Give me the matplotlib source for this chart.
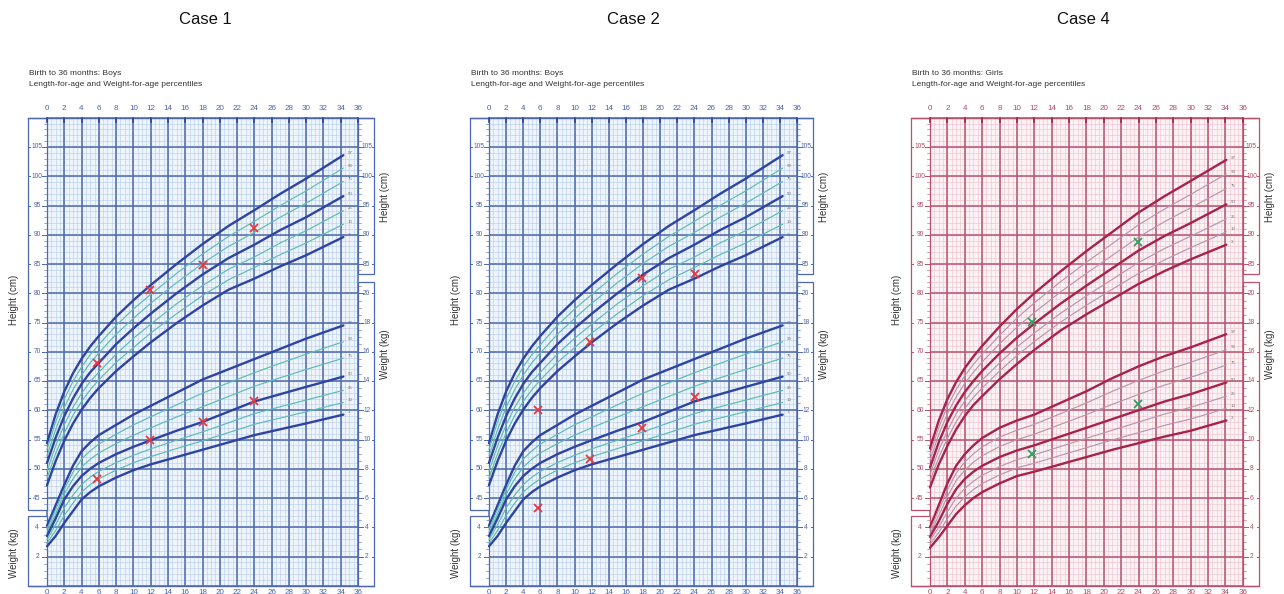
import numpy as np
import matplotlib
matplotlib.use("Agg")
import matplotlib.pyplot as plt
from matplotlib.patches import Rectangle

plt.rcParams['font.family'] = ['Liberation Sans', 'DejaVu Sans']

boy_age = [0, 1, 2, 3, 4, 5, 6, 8, 10, 12, 15, 18, 21, 24, 27, 30, 34.3]
girl_age = [0, 1, 2, 3, 4, 5, 6, 8, 10, 12, 15, 18, 21, 24, 27, 30, 34.1]
pct_names = ['97', '90', '75', '50', '25', '10', '3']

# boys length-for-age (cm)
boy_len_97 = [54.4, 59.3, 63.2, 66.3, 68.8, 70.9, 72.7, 76.0, 78.8, 81.4, 85.0, 88.4, 91.5, 94.2, 97.0, 99.6, 103.6]
boy_len_90 = [53.3, 58.0, 61.9, 64.9, 67.4, 69.5, 71.2, 74.5, 77.3, 79.8, 83.4, 86.7, 89.7, 92.3, 95.0, 97.5, 101.4]
boy_len_75 = [52.2, 56.7, 60.5, 63.5, 66.0, 68.1, 69.8, 73.0, 75.7, 78.3, 81.8, 85.1, 88.0, 90.4, 93.0, 95.4, 99.1]
boy_len_50 = [51.0, 55.3, 59.0, 62.0, 64.5, 66.5, 68.1, 71.3, 74.0, 76.5, 80.0, 83.2, 86.0, 88.3, 90.8, 93.0, 96.6]
boy_len_25 = [49.6, 53.9, 57.5, 60.5, 62.9, 64.9, 66.5, 69.6, 72.3, 74.7, 78.2, 81.3, 84.1, 86.2, 88.6, 90.7, 94.1]
boy_len_10 = [48.4, 52.6, 56.1, 59.1, 61.5, 63.5, 65.2, 68.2, 70.7, 73.2, 76.5, 79.6, 82.3, 84.4, 86.6, 88.6, 91.8]
boy_len_3 = [47.2, 51.3, 54.8, 57.7, 60.1, 62.1, 63.8, 66.7, 69.2, 71.6, 74.9, 77.9, 80.6, 82.5, 84.6, 86.5, 89.6]

# boys weight-for-age (kg)
boy_wt_97 = [4.1, 5.5, 6.9, 8.2, 9.2, 9.8, 10.3, 11.0, 11.7, 12.3, 13.2, 14.1, 14.8, 15.5, 16.2, 16.9, 17.8]
boy_wt_90 = [3.88, 5.21, 6.58, 7.75, 8.66, 9.22, 9.69, 10.36, 11.0, 11.55, 12.37, 13.17, 13.87, 14.57, 15.21, 15.84, 16.68]
boy_wt_75 = [3.65, 4.92, 6.26, 7.30, 8.11, 8.65, 9.08, 9.72, 10.29, 10.80, 11.54, 12.24, 12.94, 13.64, 14.22, 14.79, 15.56]
boy_wt_50 = [3.4, 4.6, 5.9, 6.8, 7.5, 8.0, 8.4, 9.0, 9.5, 9.95, 10.6, 11.2, 11.9, 12.6, 13.1, 13.6, 14.3]
boy_wt_25 = [3.15, 4.17, 5.32, 6.19, 6.92, 7.42, 7.82, 8.42, 8.92, 9.36, 9.95, 10.52, 11.14, 11.77, 12.24, 12.70, 13.36]
boy_wt_10 = [2.92, 3.78, 4.81, 5.64, 6.41, 6.91, 7.31, 7.91, 8.41, 8.83, 9.38, 9.91, 10.47, 11.04, 11.47, 11.90, 12.53]
boy_wt_3 = [2.7, 3.4, 4.3, 5.1, 5.9, 6.4, 6.8, 7.4, 7.9, 8.3, 8.8, 9.3, 9.8, 10.3, 10.7, 11.1, 11.7]

# girls length-for-age (cm)
girl_len_97 = [53.5, 58.2, 61.9, 64.8, 67.2, 69.2, 71.0, 74.3, 77.3, 80.0, 83.7, 87.2, 90.5, 93.8, 96.6, 99.2, 102.8]
girl_len_90 = [52.45, 57.0, 60.65, 63.5, 65.9, 67.85, 69.6, 72.8, 75.75, 78.35, 81.95, 85.3, 88.5, 91.7, 94.4, 96.9, 100.4]
girl_len_75 = [51.4, 55.85, 59.4, 62.25, 64.6, 66.5, 68.25, 71.35, 74.2, 76.7, 80.2, 83.4, 86.5, 89.6, 92.25, 94.6, 97.9]
girl_len_50 = [50.2, 54.5, 58.0, 60.8, 63.1, 65.0, 66.7, 69.7, 72.4, 74.8, 78.2, 81.3, 84.3, 87.3, 89.8, 92.0, 95.2]
girl_len_25 = [49.0, 53.15, 56.5, 59.35, 61.6, 63.5, 65.15, 68.1, 70.8, 73.2, 76.55, 79.55, 82.4, 85.25, 87.65, 89.75, 92.7]
girl_len_10 = [47.9, 51.9, 55.2, 58.0, 60.3, 62.2, 63.8, 66.7, 69.35, 71.75, 75.05, 77.95, 80.7, 83.4, 85.7, 87.8, 90.5]
girl_len_3 = [46.8, 50.7, 53.9, 56.7, 59.0, 60.9, 62.4, 65.3, 67.9, 70.3, 73.6, 76.4, 79.0, 81.6, 83.8, 85.8, 88.3]

# girls weight-for-age (kg)
girl_wt_97 = [4.0, 5.5, 7.0, 8.2, 9.0, 9.6, 10.1, 10.8, 11.3, 11.7, 12.5, 13.3, 14.2, 15.0, 15.7, 16.3, 17.2]
girl_wt_90 = [3.79, 5.15, 6.55, 7.69, 8.46, 9.02, 9.49, 10.16, 10.64, 11.03, 11.76, 12.5, 13.3, 14.04, 14.71, 15.28, 16.14]
girl_wt_75 = [3.58, 4.80, 6.10, 7.18, 7.91, 8.45, 8.88, 9.52, 9.99, 10.36, 11.03, 11.7, 12.41, 13.08, 13.72, 14.25, 15.09]
girl_wt_50 = [3.35, 4.4, 5.6, 6.6, 7.3, 7.8, 8.2, 8.8, 9.25, 9.6, 10.2, 10.8, 11.4, 12.0, 12.6, 13.1, 13.9]
girl_wt_25 = [3.08, 4.00, 5.06, 5.99, 6.65, 7.15, 7.55, 8.15, 8.62, 8.95, 9.52, 10.08, 10.64, 11.19, 11.74, 12.2, 12.96]
girl_wt_10 = [2.84, 3.65, 4.58, 5.44, 6.08, 6.58, 6.98, 7.58, 8.06, 8.38, 8.91, 9.44, 9.97, 10.47, 10.97, 11.4, 12.13]
girl_wt_3 = [2.6, 3.3, 4.1, 4.9, 5.5, 6.0, 6.4, 7.0, 7.5, 7.8, 8.3, 8.8, 9.3, 9.75, 10.2, 10.6, 11.3]

# measurements marked on each chart
case1_age = [5.8, 11.9, 18.0, 24.0]
case1_len = [68.1, 80.6, 84.8, 91.2]
case1_wt = [7.3, 9.95, 11.2, 12.6]
case2_age = [5.7, 11.8, 17.9, 24.1]
case2_len = [60.0, 71.7, 82.6, 83.3]
case2_wt = [5.3, 8.7, 10.8, 12.9]
case4_age = [11.7, 23.9]
case4_len = [75.1, 88.8]
case4_wt = [9.0, 12.4]

boy_len = dict(zip(pct_names, [boy_len_97, boy_len_90, boy_len_75, boy_len_50, boy_len_25, boy_len_10, boy_len_3]))
boy_wt = dict(zip(pct_names, [boy_wt_97, boy_wt_90, boy_wt_75, boy_wt_50, boy_wt_25, boy_wt_10, boy_wt_3]))
girl_len = dict(zip(pct_names, [girl_len_97, girl_len_90, girl_len_75, girl_len_50, girl_len_25, girl_len_10, girl_len_3]))
girl_wt = dict(zip(pct_names, [girl_wt_97, girl_wt_90, girl_wt_75, girl_wt_50, girl_wt_25, girl_wt_10, girl_wt_3]))

BLUE = dict(bg='#edf4fb', minor='#b6cbe7', major='#4d68ae', dark='#2e44a0', light='#5dbcb0',
            text='#4a63a8', mark='#e8383d')
PINK = dict(bg='#fcf2f5', minor='#e9c0cd', major='#b9516d', dark='#a6234b', light='#b996ab',
            text='#b04a66', mark='#2fa060')

W, H = 1284, 594
# height-scale value at the bottom / top of each panel axes
Y_LO = 105 - (H - 147) / 5.85
Y_HI = 105 + (147 - 60) / 5.85
XMIN, XMAX = -4.6, 40.2

fig = plt.figure(figsize=(W / 100, H / 100), dpi=100)


def draw_panel(x0, s, title, tx, sex, ages, lens, wts, c_age, c_len, c_wt, th):
    ax = fig.add_axes([(x0 + XMIN * s) / W, 0, (XMAX - XMIN) * s / W, 1 - 60 / H])
    ax.set_xlim(XMIN, XMAX)
    ax.set_ylim(Y_LO, Y_HI)
    ax.set_axis_off()
    axw = ax.twinx()
    axw.set_ylim((Y_LO - 30) / 2.5, (Y_HI - 30) / 2.5)
    axw.set_axis_off()

    # grid
    ax.add_patch(Rectangle((0, 30), 36, 80, facecolor=th['bg'], edgecolor='none', zorder=0))
    ax.vlines(np.arange(0, 36.01, 0.5), 30, 110, color=th['minor'], lw=0.4, zorder=1)
    ax.hlines(np.arange(30, 110.1, 1), 0, 36, color=th['minor'], lw=0.4, zorder=1)
    ax.vlines(np.arange(0, 36.01, 2), 30, 110, color=th['major'], lw=1.1, zorder=2)
    ax.hlines(np.arange(30, 110.1, 5), 0, 36, color=th['major'], lw=1.1, zorder=2)

    # label boxes either side
    box = dict(facecolor='white', edgecolor=th['major'], lw=0.9, zorder=2)
    ax.add_patch(Rectangle((-2.2, 43.0), 2.2, 67.0, **box))
    ax.add_patch(Rectangle((-2.2, 30), 2.2, 11.9, **box))
    ax.add_patch(Rectangle((36, 83.3), 1.9, 26.7, **box))
    ax.add_patch(Rectangle((36, 30), 1.9, 51.9, **box))

    for h in range(44, 110):
        big = h % 5 == 0
        ax.plot([-0.55 if big else -0.35, 0], [h, h], color=th['major'], lw=0.7 if big else 0.4, zorder=3)
        if big:
            ax.plot([-2.2, -1.95], [h, h], color=th['major'], lw=0.7, zorder=3)
            ax.text(-1.15, h, str(h), fontsize=4.8, color=th['text'], ha='center', va='center', zorder=4)
    for h in range(84, 110):
        big = h % 5 == 0
        ax.plot([36, 36.55 if big else 36.35], [h, h], color=th['major'], lw=0.7 if big else 0.4, zorder=3)
        if big:
            ax.plot([37.65, 37.9], [h, h], color=th['major'], lw=0.7, zorder=3)
            ax.text(37.0, h, str(h), fontsize=4.8, color=th['text'], ha='center', va='center', zorder=4)
    for w in np.arange(0.5, 4.6, 0.5):
        big = w % 2 == 0
        axw.plot([-0.55 if big else -0.35, 0], [w, w], color=th['major'], lw=0.7 if big else 0.4, zorder=3)
        if big:
            axw.text(-1.15, w, str(int(w)), fontsize=4.8, color=th['text'], ha='center', va='center', zorder=4)
    for w in np.arange(0.5, 20.6, 0.5):
        big = w % 2 == 0
        axw.plot([36, 36.55 if big else 36.35], [w, w], color=th['major'], lw=0.7 if big else 0.4, zorder=3)
        if big:
            axw.plot([37.65, 37.9], [w, w], color=th['major'], lw=0.7, zorder=3)
            axw.text(37.0, w, str(int(w)), fontsize=4.8, color=th['text'], ha='center', va='center', zorder=4)

    # outer frame
    ax.plot([-2.2, 37.9], [110, 110], color=th['major'], lw=1.0, zorder=3)
    ax.plot([-2.2, 37.9], [30, 30], color=th['major'], lw=1.0, zorder=3)

    # month ticks top and bottom
    for a in range(0, 37, 2):
        ax.text(a, 111.5, str(a), fontsize=5.8, color=th['text'], ha='center', va='center')
        ax.text(a, 28.85, str(a), fontsize=5.8, color=th['text'], ha='center', va='center')
        ax.plot([a, a], [110, 109.2], color=th['dark'], lw=1.2, zorder=3)

    # percentile curves
    for p in pct_names:
        dark = p in ('97', '50', '3')
        kw = dict(color=th['dark'] if dark else th['light'], lw=1.7 if dark else 0.85, zorder=5,
                  solid_capstyle='round')
        ax.plot(ages, lens[p], **kw)
        axw.plot(ages, wts[p], **kw)
        ax.text(ages[-1] + 0.5, lens[p][-1] + 0.4, p, fontsize=3.2, color='#777777', ha='left', va='center')
        axw.text(ages[-1] + 0.5, wts[p][-1] + 0.16, p, fontsize=3.2, color='#777777', ha='left', va='center')

    # measurements
    mk = dict(marker='x', ls='none', color=th['mark'], ms=6, mew=1.3, zorder=6)
    ax.plot(c_age, c_len, **mk)
    axw.plot(c_age, c_wt, **mk)

    # axis titles
    ax.text(-3.8, 78.8, 'Height (cm)', rotation=90, fontsize=7, color='#333333', ha='center', va='center')
    ax.text(-3.8, 35.5, 'Weight (kg)', rotation=90, fontsize=7, color='#333333', ha='center', va='center')
    ax.text(39.1, 96.5, 'Height (cm)', rotation=90, fontsize=7, color='#333333', ha='center', va='center')
    ax.text(39.1, 69.5, 'Weight (kg)', rotation=90, fontsize=7, color='#333333', ha='center', va='center')

    ax.text(-2.1, 117.5, 'Birth to 36 months: ' + sex, fontsize=6, color='#333333', ha='left', va='center')
    ax.text(-2.1, 115.6, 'Length-for-age and Weight-for-age percentiles', fontsize=6, color='#333333',
            ha='left', va='center')
    fig.text(tx / W, 1 - 20 / H, title, fontsize=12, ha='center', va='center', color='#111111')


draw_panel(47, 8.64, 'Case 1', 205, 'Boys', boy_age, boy_len, boy_wt, case1_age, case1_len, case1_wt, BLUE)
draw_panel(489, 8.56, 'Case 2', 633, 'Boys', boy_age, boy_len, boy_wt, case2_age, case2_len, case2_wt, BLUE)
draw_panel(930, 8.69, 'Case 4', 1083, 'Girls', girl_age, girl_len, girl_wt, case4_age, case4_len, case4_wt, PINK)

fig.savefig('out.png', dpi=100, facecolor='white')
